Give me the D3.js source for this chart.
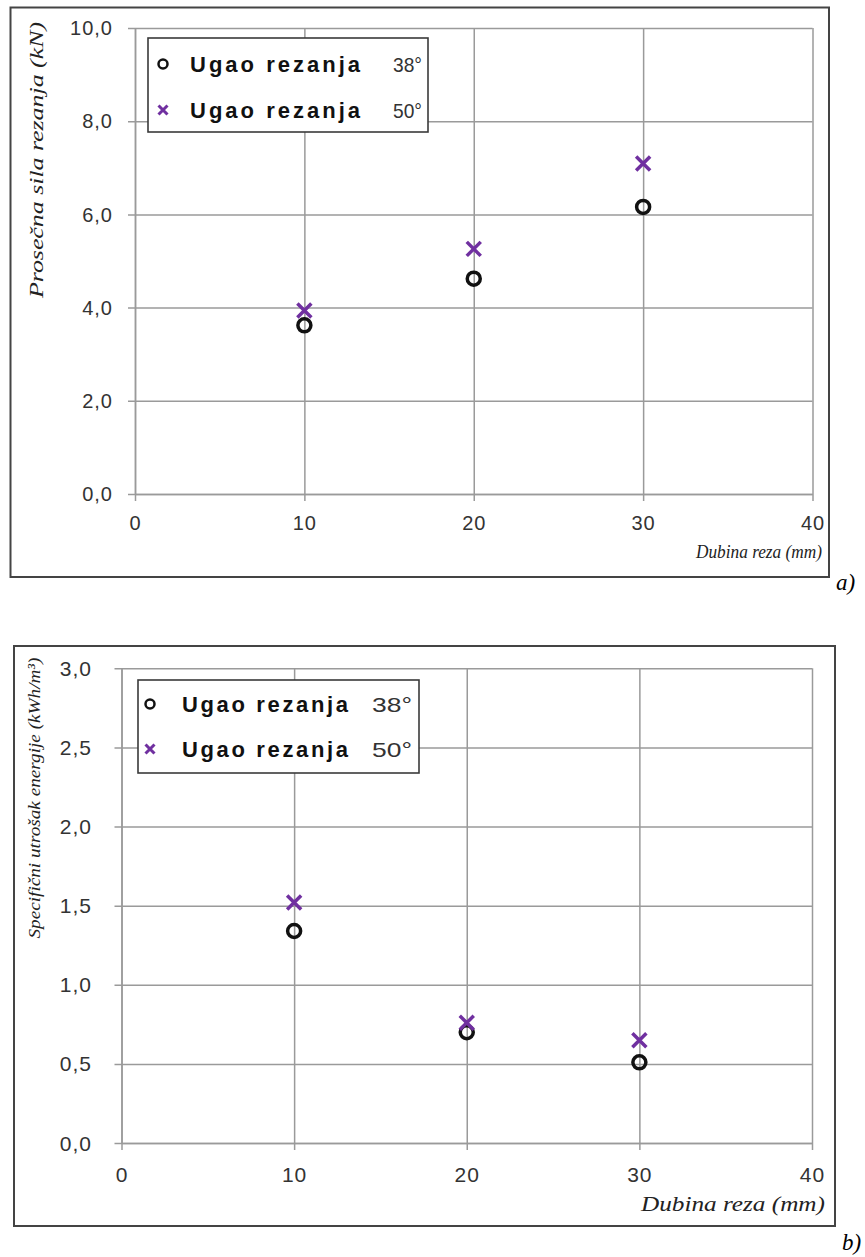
<!DOCTYPE html>
<html>
<head>
<meta charset="utf-8">
<script src="https://cdn.jsdelivr.net/npm/d3@7/dist/d3.min.js"></script>
<style>
  html, body { margin: 0; padding: 0; background: #fff; }
  svg { display: block; }
</style>
</head>
<body>
<svg id="fig" width="865" height="1257"></svg>
<script>
// Dubina reza (mm) at which both cutting angles were measured
const depths = [10, 20, 30];

// a) average cutting force (kN)
const forceAngle38 = [3.62, 4.62, 6.16];
const forceAngle50 = [3.94, 5.26, 7.09];

// b) specific energy consumption (kWh/m³)
const energyAngle38 = [1.34, 0.70, 0.51];
const energyAngle50 = [1.52, 0.76, 0.65];

// axis ticks
const depthTicks = [0, 10, 20, 30, 40];
const forceTicks = [0, 2, 4, 6, 8, 10];
const energyTicks = [0, 0.5, 1.0, 1.5, 2.0, 2.5, 3.0];

// legend entries
const seriesNames = ["Ugao rezanja", "Ugao rezanja"];
const seriesAngles = ["38°", "50°"];

const PURPLE = "#7030a0";
const GRID = "#9a9a9a";
const svg = d3.select("#fig");
const fmt = v => d3.format(".1f")(v).replace(".", ",");

function circleMarker(g, cx, cy, r, sw) {
  g.append("circle").attr("cx", cx).attr("cy", cy).attr("r", r)
    .attr("fill", "none").attr("stroke", "#111").attr("stroke-width", sw);
}
function crossMarker(g, cx, cy, h, sw) {
  g.append("path")
    .attr("d", `M${cx - h},${cy - h}L${cx + h},${cy + h}M${cx - h},${cy + h}L${cx + h},${cy - h}`)
    .attr("stroke", PURPLE).attr("stroke-width", sw).attr("fill", "none");
}

function drawPanel(p) {
  const g = svg.append("g");

  // outer frame
  g.append("rect").attr("x", p.frame[0]).attr("y", p.frame[1])
    .attr("width", p.frame[2]).attr("height", p.frame[3])
    .attr("fill", "#fff").attr("stroke", "#444").attr("stroke-width", 2);

  const x = d3.scaleLinear().domain([0, 40]).range(p.xRange);
  const y = d3.scaleLinear().domain(p.yDomain).range(p.yRange);

  // horizontal gridlines with ticks to the left
  const yAxis = d3.axisLeft(y).tickValues(p.yTicks).tickFormat("")
    .tickSize(-(p.xRange[1] - p.xRange[0])).tickSizeOuter(0);
  const gy = g.append("g").attr("transform", `translate(${p.xRange[0]},0)`).call(yAxis);
  gy.select(".domain").attr("stroke", GRID).attr("stroke-width", 1.5);
  gy.selectAll(".tick line").attr("stroke", GRID).attr("stroke-width", 1.5)
    .attr("x1", -7);

  // vertical gridlines with ticks below
  const xAxis = d3.axisBottom(x).tickValues(depthTicks).tickFormat("")
    .tickSize(-(p.yRange[0] - p.yRange[1])).tickSizeOuter(0);
  const gx = g.append("g").attr("transform", `translate(0,${p.yRange[0]})`).call(xAxis);
  gx.select(".domain").attr("stroke", GRID).attr("stroke-width", 1.5);
  gx.selectAll(".tick line").attr("stroke", GRID).attr("stroke-width", 1.5)
    .attr("y1", 7);

  // tick labels
  g.append("g").selectAll("text").data(p.yTicks).join("text")
    .attr("x", p.yLabelRight + p.tickSpacing).attr("y", d => y(d))
    .attr("dy", "0.36em").attr("text-anchor", "end")
    .attr("font-family", "Liberation Sans, Arial, sans-serif")
    .attr("font-size", p.tickSize).attr("letter-spacing", p.tickSpacing)
    .attr("fill", "#333").text(fmt);

  g.append("g").selectAll("text").data(depthTicks).join("text")
    .attr("x", d => x(d) + p.tickSpacing / 2).attr("y", p.xLabelBase)
    .attr("text-anchor", "middle")
    .attr("font-family", "Liberation Sans, Arial, sans-serif")
    .attr("font-size", p.tickSize).attr("letter-spacing", p.tickSpacing)
    .attr("fill", "#333").text(d => d);

  // axis titles
  g.append("text").attr("x", p.xTitle.right - p.xTitle.len).attr("y", p.xTitle.base)
    .attr("font-family", "Liberation Serif, 'Times New Roman', serif")
    .attr("font-style", "italic").attr("font-size", p.xTitle.size)
    .attr("textLength", p.xTitle.len).attr("lengthAdjust", "spacingAndGlyphs")
    .attr("fill", "#222").text("Dubina reza (mm)");

  g.append("text")
    .attr("transform", `translate(${p.yTitle.base},${p.yTitle.cy}) rotate(-90)`)
    .attr("x", -p.yTitle.len / 2).attr("y", 0)
    .attr("font-family", "Liberation Serif, 'Times New Roman', serif")
    .attr("font-style", "italic").attr("font-size", p.yTitle.size)
    .attr("textLength", p.yTitle.len).attr("lengthAdjust", "spacingAndGlyphs")
    .attr("fill", "#222").text(p.yTitle.text);

  // data points
  const pts = g.append("g");
  p.s38.forEach((v, i) => circleMarker(pts, x(depths[i]), y(v), 6.5, 3.5));
  p.s50.forEach((v, i) => crossMarker(pts, x(depths[i]), y(v), 7, 3.5));

  // legend
  const L = p.legend;
  const lg = g.append("g");
  lg.append("rect").attr("x", L.box[0]).attr("y", L.box[1])
    .attr("width", L.box[2]).attr("height", L.box[3])
    .attr("fill", "#fff").attr("stroke", "#3a3a3a").attr("stroke-width", 1.6);
  seriesNames.forEach((name, i) => {
    const cy = L.rows[i];
    if (i === 0) circleMarker(lg, L.markX, cy, 4.5, 2.5);
    else crossMarker(lg, L.markX, cy, 4.5, 3);
    lg.append("text").attr("x", L.textX).attr("y", cy + 8)
      .attr("font-family", "Liberation Sans, Arial, sans-serif")
      .attr("font-weight", "bold").attr("font-size", 22)
      .attr("textLength", L.textLen).attr("lengthAdjust", "spacing")
      .attr("fill", "#111").text(name);
    lg.append("text").attr("x", L.angleX).attr("y", cy + 8)
      .attr("font-family", "Liberation Sans, Arial, sans-serif")
      .attr("font-size", 21)
      .attr("textLength", L.angleLen).attr("lengthAdjust", "spacingAndGlyphs")
      .attr("fill", "#333").text(seriesAngles[i]);
  });

  // panel tag
  svg.append("text").attr("x", p.tag[0]).attr("y", p.tag[1])
    .attr("font-family", "Liberation Serif, 'Times New Roman', serif")
    .attr("font-style", "italic").attr("font-size", 23)
    .attr("fill", "#000").text(p.tag[2]);
}

drawPanel({
  frame: [10.5, 7.5, 818.5, 569.5],
  xRange: [135, 812.5],
  yDomain: [0, 10], yRange: [494, 28], yTicks: forceTicks,
  yLabelRight: 112, xLabelBase: 530, tickSize: 20, tickSpacing: 1,
  xTitle: { right: 822, base: 558, size: 18, len: 126 },
  yTitle: { base: 43, cy: 160, size: 18, len: 276, text: "Prosečna sila rezanja (kN)" },
  s38: forceAngle38, s50: forceAngle50,
  legend: { box: [148, 38, 280, 94], rows: [64, 110], markX: 163, textX: 190,
            textLen: 170, angleX: 393, angleLen: 29 },
  tag: [836, 590, "a)"]
});

drawPanel({
  frame: [14, 646, 821, 580],
  xRange: [121.5, 812],
  yDomain: [0, 3], yRange: [1143, 668.3], yTicks: energyTicks,
  yLabelRight: 91, xLabelBase: 1182, tickSize: 21, tickSpacing: 1,
  xTitle: { right: 825, base: 1211, size: 20, len: 184 },
  yTitle: { base: 40, cy: 798, size: 17, len: 281, text: "Specifični utrošak energije  (kWh/m³)" },
  s38: energyAngle38, s50: energyAngle50,
  legend: { box: [138, 680, 281, 93], rows: [704, 749], markX: 150, textX: 182,
            textLen: 166, angleX: 372, angleLen: 40 },
  tag: [842, 1250, "b)"]
});
</script>
</body>
</html>
